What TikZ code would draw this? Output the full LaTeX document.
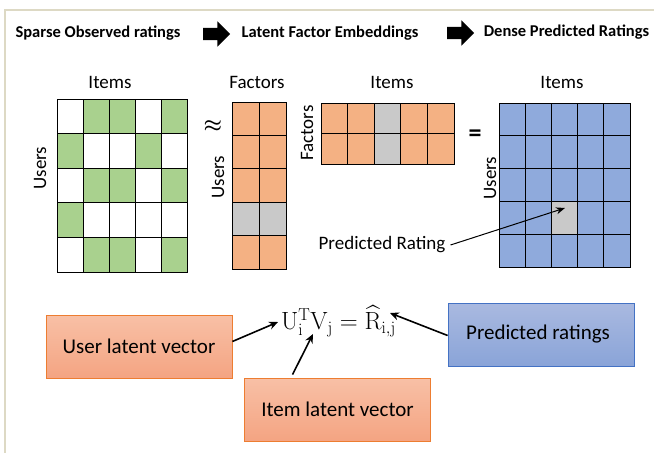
\documentclass[tikz,border=0pt]{standalone}
\usepackage{amsmath}
\usepackage[no-math]{fontspec}
\setmainfont{Carlito}
\usetikzlibrary{arrows.meta,shapes.arrows}

\definecolor{ratgreen}{HTML}{A9D18E}
\definecolor{facorange}{HTML}{F4B183}
\definecolor{cellgray}{HTML}{C9C9C9}
\definecolor{predblue}{HTML}{8FAADC}
\definecolor{frameline}{HTML}{DDD9C4}
\definecolor{orangeedge}{HTML}{ED7D31}
\definecolor{blueedge}{HTML}{4472C4}
\definecolor{orangetop}{RGB}{248,192,166}
\definecolor{orangebot}{RGB}{244,164,130}
\definecolor{bluetop}{RGB}{169,185,224}
\definecolor{bluebot}{RGB}{138,164,216}

\begin{document}
\begin{tikzpicture}[x=1pt,y=-1pt,
  lbl/.style={font=\fontsize{19}{22}\selectfont, inner sep=1pt},
  head/.style={font=\bfseries\fontsize{16.5}{19}\selectfont, inner sep=1pt},
  cell/.style={draw=black, line width=1pt},
  hdarrow/.style={single arrow, fill=black, inner sep=6pt, minimum height=27pt,
    single arrow head extend=6.5pt},
  ptr/.style={-{Stealth[length=9pt,width=8pt]}, line width=1.6pt},
  vecbox/.style={draw=#1, line width=0.8pt, minimum width=186pt, minimum height=63pt,
    font=\fontsize{21}{24}\selectfont},
  userbox/.style={vecbox=orangeedge, top color=orangetop, bottom color=orangebot},
  ratebox/.style={vecbox=blueedge, top color=bluetop, bottom color=bluebot},
]
\useasboundingbox (0,0) rectangle (654,453);
\draw[frameline, line width=1.5pt] (654,10) -- (5,10) -- (5,453);

% header
\node[head] (sparse) at (98,33) {Sparse Observed ratings};
\node[hdarrow] (arr1) at (213.5,34) {};
\node[head] (latent) at (330,33) {Latent Factor Embeddings};
\node[hdarrow] (arr2) at (457.5,33) {};
\node[head] (dense) at (566.5,32) {Dense Predicted Ratings};

% observed ratings
\foreach \r/\c in {1/2,1/3,1/5,2/1,2/4,3/2,3/3,3/5,4/1,5/2,5/3,5/5}
  \fill[ratgreen] ({57+26*(\c-1)},{99+34.6*(\r-1)}) rectangle ++(26,34.6);
\foreach \r in {0,...,4}
  \foreach \c in {0,...,4}
    \draw[cell] ({57+26*\c},{99+34.6*\r}) rectangle ++(26,34.6);
\node[lbl] (items1) at (110,82) {Items};
\node[lbl, rotate=90] (users1) at (40,168) {Users};

% user factors
\foreach \r in {0,...,4}
  \foreach \c in {0,1}
    \draw[cell, fill=facorange] ({232+27*\c},{102+33.4*\r}) rectangle ++(27,33.4);
\foreach \c in {0,1}
  \draw[cell, fill=cellgray] ({232+27*\c},{102+33.4*3}) rectangle ++(27,33.4);
\node[lbl] (factors1) at (257,82) {Factors};
\node[lbl, rotate=90] (users2) at (218,177) {Users};
\node[font=\fontsize{20}{22}\selectfont] (approx) at (213,126) {$\boldsymbol{\approx}$};

% item factors
\foreach \r in {0,1}
  \foreach \c in {0,...,4}
    \draw[cell, fill=facorange] ({321+26.6*\c},{103+30.5*\r}) rectangle ++(26.6,30.5);
\foreach \r in {0,1}
  \draw[cell, fill=cellgray] ({321+26.6*2},{103+30.5*\r}) rectangle ++(26.6,30.5);
\node[lbl] (items2) at (392,82) {Items};
\node[lbl, rotate=90] (factors2) at (307,133) {Factors};
\node[font=\bfseries\fontsize{26}{28}\selectfont] (equals) at (475,136) {=};

% predicted ratings
\foreach \r in {0,...,4}
  \foreach \c in {0,...,4}
    \draw[cell, fill=predblue] ({499+26.2*\c},{103+32.8*\r}) rectangle ++(26.2,32.8);
\draw[cell, fill=cellgray] ({499+26.2*2},{103+32.8*3}) rectangle ++(26.2,32.8);
\node[lbl] (items3) at (562,82) {Items};
\node[lbl, rotate=90] (users3) at (490,178) {Users};

\coordinate (predcell) at (565,208);
\node[lbl] (predlbl) at (382,245) {Predicted Rating};
\draw[-{Stealth[length=9pt,width=7pt]}, line width=1pt] ([xshift=4pt]predlbl.east) -- (predcell);

% formula
\node[font=\fontsize{26.5}{29}\selectfont, inner sep=1pt] (formula) at (338.5,321)
  {$\mathrm{U}_{\mathrm{i}}^{\mathrm{T}}\mathrm{V}_{\mathrm{j}}=\widehat{\mathrm{R}}_{\mathrm{i,j}}$};
\coordinate (utip) at (278,322);
\coordinate (vtip) at (313,334);
\coordinate (rtip) at (390,313);

\node[userbox] (uvec) at (139,346.5) {User latent vector};
\node[userbox] (ivec) at (337.5,409.5) {Item latent vector};
\node[ratebox] (pvec) at (541,334.5) {\raisebox{5pt}{Predicted ratings}\hspace*{6pt}};

\draw[ptr] ([yshift=5pt]uvec.east) -- (utip);
\draw[ptr] ([xshift=-45pt,yshift=3pt]ivec.north) -- (vtip);
\draw[ptr] ([yshift=-1pt]pvec.west) -- (rtip);

\end{tikzpicture}
\end{document}
